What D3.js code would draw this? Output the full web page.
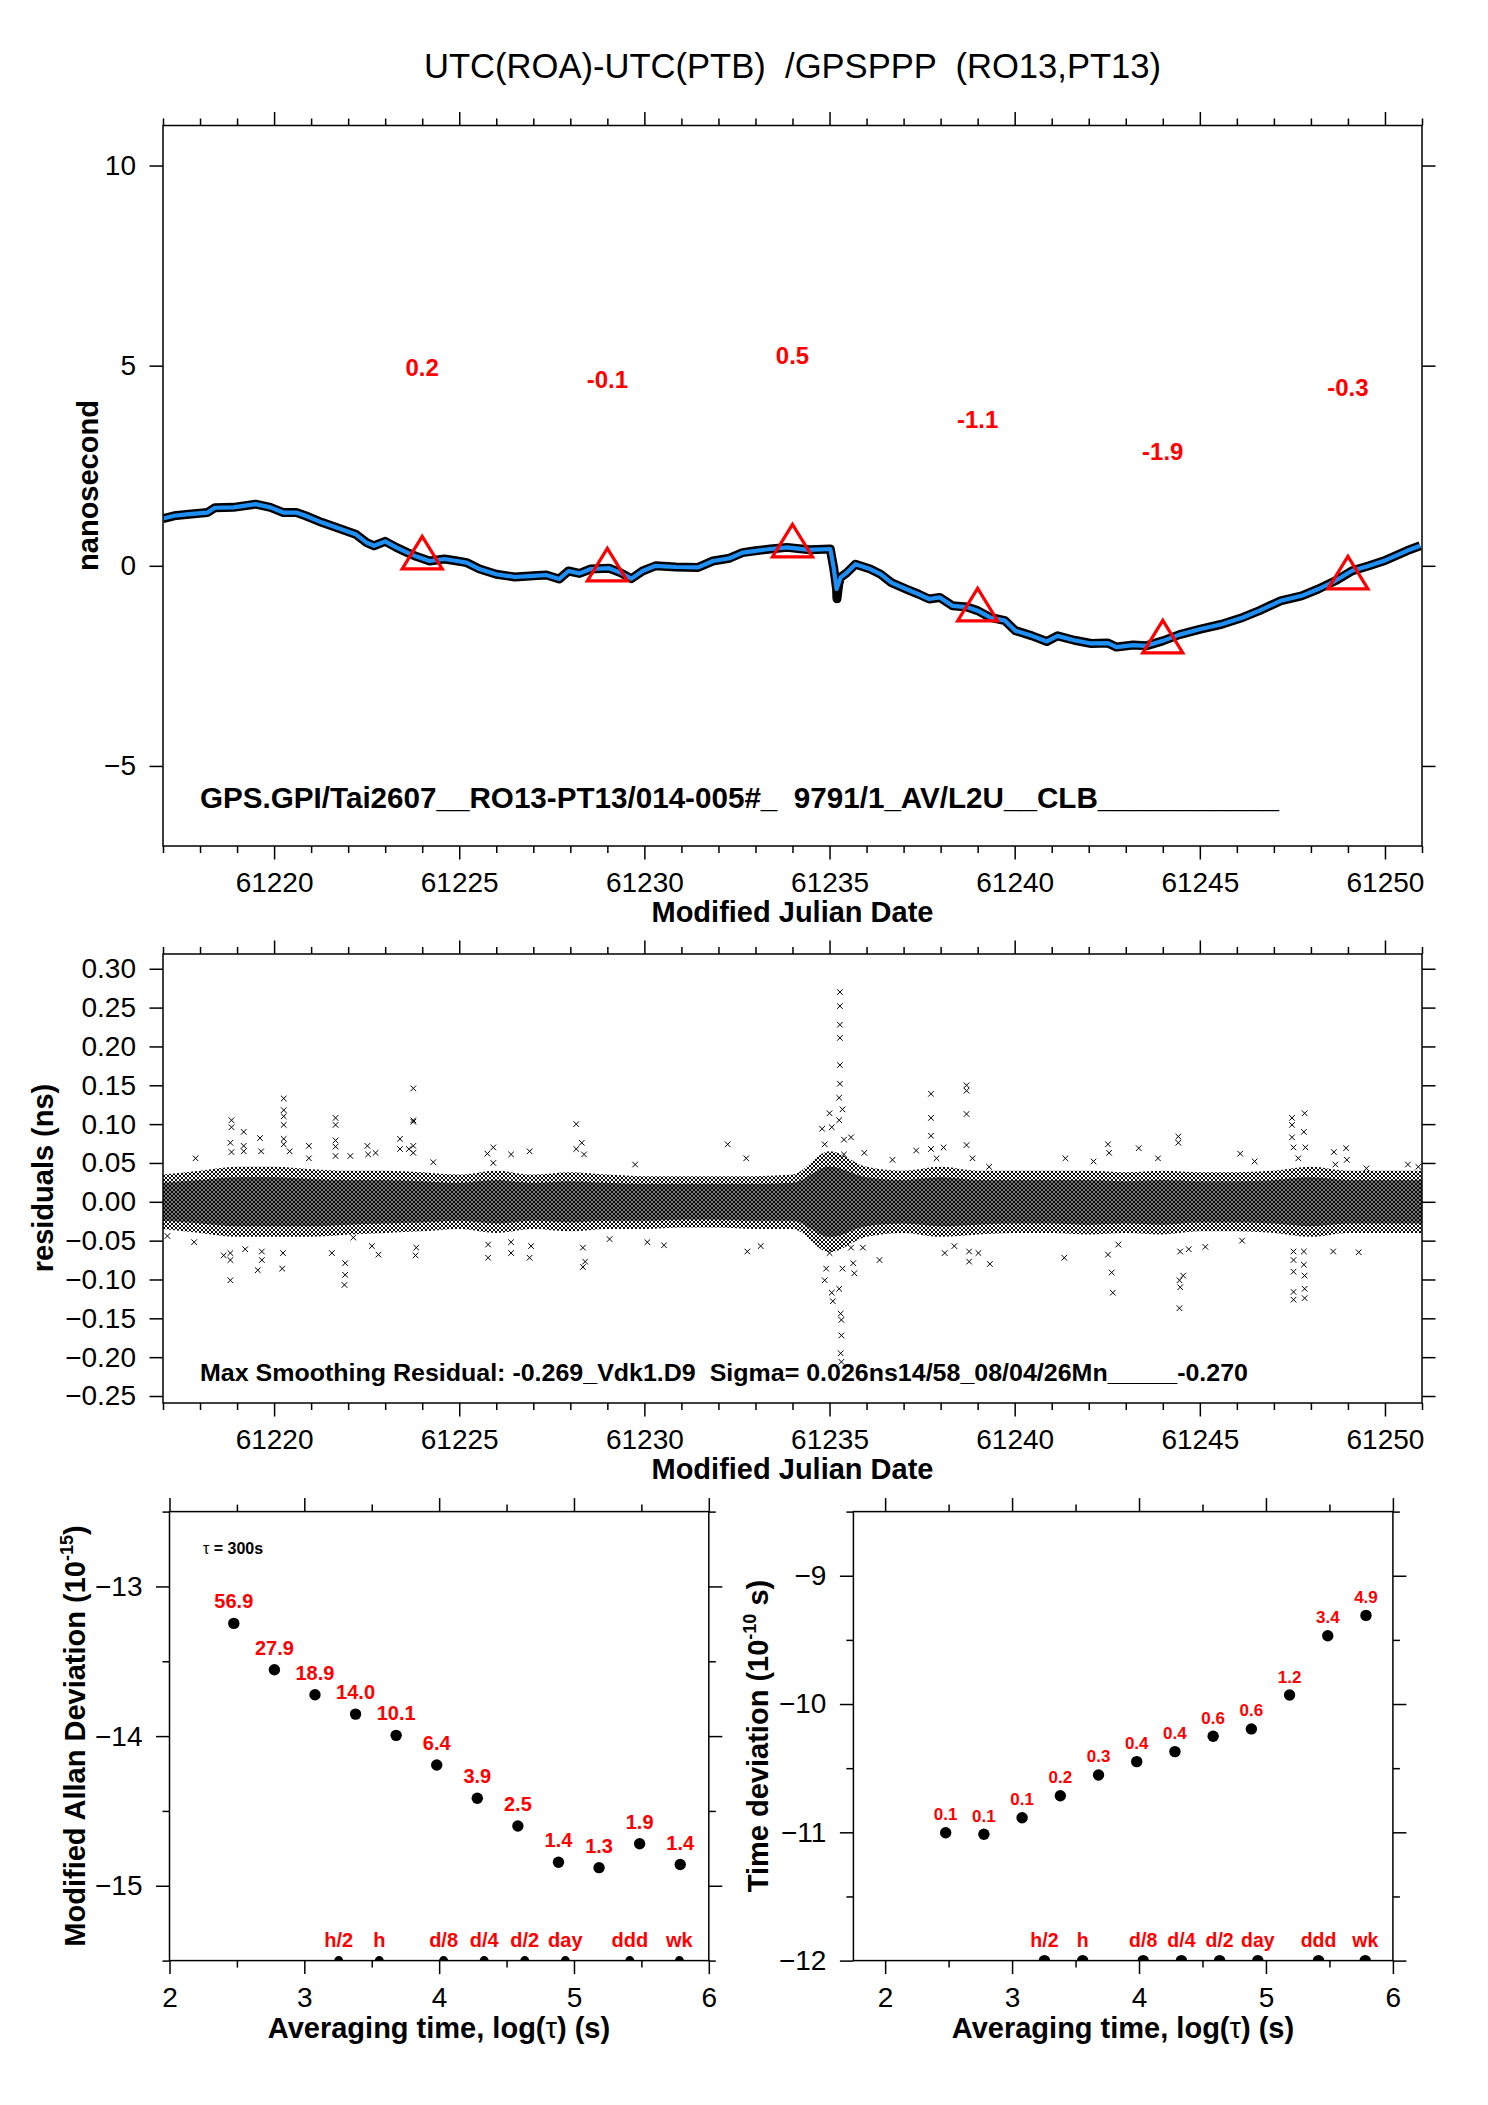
<!DOCTYPE html>
<html lang="en">
<head>
<meta charset="utf-8">
<title>UTC(ROA)-UTC(PTB) /GPSPPP</title>
<script src="https://cdn.jsdelivr.net/npm/d3@7"></script>
<style>
  body { margin:0; background:#fff; }
  svg { display:block; font-family:"Liberation Sans", Arial, Helvetica, sans-serif; }
</style>
</head>
<body>
<script>

// ---------- data ----------

// top panel: smoothed clock difference (ns) vs MJD
var curve = [
  [61217.0,1.18],[61217.3,1.25],[61217.7,1.29],[61218.2,1.33],[61218.4,1.45],[61218.9,1.46],
  [61219.5,1.54],[61219.9,1.46],[61220.25,1.33],[61220.6,1.33],[61220.85,1.25],[61221.3,1.08],
  [61221.8,0.92],[61222.2,0.79],[61222.5,0.58],[61222.7,0.50],[61223.0,0.61],[61223.3,0.46],
  [61223.6,0.33],[61223.85,0.23],[61224.2,0.12],[61224.6,0.17],[61224.95,0.12],[61225.2,0.08],
  [61225.55,-0.08],[61226.0,-0.21],[61226.5,-0.28],[61227.0,-0.25],[61227.35,-0.23],[61227.7,-0.33],
  [61227.95,-0.13],[61228.25,-0.19],[61228.55,-0.08],[61229.05,-0.06],[61229.35,-0.17],[61229.65,-0.32],
  [61229.95,-0.13],[61230.3,0.0],[61230.85,-0.03],[61231.45,-0.04],[61231.85,0.12],[61232.3,0.19],
  [61232.65,0.33],[61233.0,0.375],[61233.4,0.42],[61233.85,0.46],[61234.45,0.40],[61235.02,0.42],
  [61235.11,-0.04],[61235.19,-0.58],[61235.3,-0.29],[61235.47,-0.17],[61235.7,0.04],[61235.93,-0.03],
  [61236.1,-0.08],[61236.38,-0.21],[61236.67,-0.42],[61237.07,-0.58],[61237.41,-0.71],[61237.69,-0.83],
  [61237.98,-0.79],[61238.32,-1.0],[61238.71,-1.03],[61239.0,-1.12],[61239.34,-1.29],[61239.74,-1.37],
  [61240.02,-1.62],[61240.47,-1.75],[61240.87,-1.89],[61241.16,-1.75],[61241.61,-1.86],[61242.07,-1.94],
  [61242.52,-1.93],[61242.75,-2.03],[61243.2,-1.98],[61243.55,-2.0],[61244.0,-1.875],[61244.45,-1.72],
  [61245.02,-1.58],[61245.59,-1.46],[61246.16,-1.29],[61246.61,-1.12],[61247.18,-0.875],[61247.75,-0.75],
  [61248.2,-0.58],[61248.66,-0.375],[61249.11,-0.125],[61249.57,0.0],[61250.02,0.14],[61250.59,0.375],
  [61250.95,0.5]
];
// raw data spike that the smoothing does not follow
var rawSpike = [[61235.15,-0.3],[61235.2,-0.82],[61235.25,-0.45]];

var triDays = [61224, 61229, 61234, 61239, 61244, 61249];
var triVals = [0.2, -0.1, 0.5, -1.1, -1.9, -0.3];
var triLabels = ["0.2", "-0.1", "0.5", "-1.1", "-1.9", "-0.3"];

var mjdTicks = [61220, 61225, 61230, 61235, 61240, 61245, 61250];
var nsTicks = [-5, 0, 5, 10];
var resTicks = [-0.25, -0.20, -0.15, -0.10, -0.05, 0.00, 0.05, 0.10, 0.15, 0.20, 0.25, 0.30];

// middle panel: extent of the dense residual cloud, one value per day
var bandDays = [61217,61218,61219,61220,61221,61222,61223,61224,61225,61226,61227,61228,
  61229,61230,61231,61232,61233,61234,61235,61236,61237,61238,61239,61240,61241,61242,
  61243,61244,61245,61246,61247,61248,61249,61250,61251];
var bandHi = [0.035,0.040,0.045,0.045,0.042,0.040,0.040,0.038,0.035,0.040,0.035,0.038,
  0.035,0.033,0.033,0.033,0.033,0.035,0.065,0.045,0.040,0.045,0.040,0.040,0.040,0.040,
  0.038,0.040,0.038,0.038,0.040,0.045,0.040,0.040,0.040];
var bandLo = [-0.035,-0.040,-0.045,-0.045,-0.045,-0.042,-0.040,-0.038,-0.035,-0.040,-0.035,-0.038,
  -0.035,-0.035,-0.033,-0.033,-0.035,-0.035,-0.065,-0.045,-0.040,-0.045,-0.042,-0.040,-0.040,-0.042,
  -0.040,-0.042,-0.038,-0.038,-0.040,-0.045,-0.040,-0.040,-0.040];

// middle panel: residuals lying outside the cloud
var outliers = [
  [61217.12,-0.044],[61217.88,0.056],[61217.84,-0.052],[61218.64,-0.069],[61218.82,-0.101],[61218.85,0.105],
  [61218.85,0.096],[61218.82,0.076],[61218.85,0.064],[61218.82,-0.075],[61218.82,-0.066],[61219.18,0.090],
  [61219.18,0.072],[61219.18,0.065],[61219.22,-0.061],[61219.56,-0.088],[61219.62,0.082],[61219.65,0.065],
  [61219.67,-0.075],[61219.67,-0.064],[61220.26,0.133],[61220.26,0.118],[61220.26,0.110],[61220.26,0.099],
  [61220.26,0.081],[61220.26,0.074],[61220.22,-0.086],[61220.24,-0.066],[61220.42,0.065],[61220.94,0.072],
  [61220.94,0.056],[61221.56,-0.066],[61221.66,0.108],[61221.66,0.099],[61221.66,0.079],[61221.66,0.071],
  [61221.66,0.059],[61221.9,-0.107],[61221.92,-0.094],[61221.92,-0.079],[61222.06,0.059],[61222.14,-0.046],
  [61222.52,0.072],[61222.54,0.061],[61222.64,-0.057],[61222.74,0.063],[61222.82,-0.068],[61223.4,0.081],
  [61223.4,0.068],[61223.64,0.068],[61223.76,0.146],[61223.76,0.105],[61223.76,0.103],[61223.76,0.072],
  [61223.76,0.063],[61223.82,-0.069],[61223.84,-0.059],[61224.3,0.051],[61225.76,0.062],[61225.78,-0.072],
  [61225.78,-0.055],[61225.92,0.070],[61225.92,0.050],[61226.4,0.061],[61226.4,-0.066],[61226.4,-0.052],
  [61226.9,0.065],[61226.9,-0.072],[61226.94,-0.057],[61228.16,0.100],[61228.16,0.068],[61228.31,0.076],
  [61228.37,0.061],[61228.34,-0.084],[61228.4,-0.077],[61228.34,-0.059],[61229.06,-0.048],[61229.75,0.048],
  [61230.08,-0.052],[61230.53,-0.056],[61232.25,0.074],[61232.75,0.056],[61232.78,-0.064],[61233.14,-0.057],
  [61235.28,0.270],[61235.28,0.252],[61235.28,0.228],[61235.28,0.211],[61235.28,0.176],[61235.28,0.152],
  [61235.26,0.134],[61235.35,0.119],[61235.26,0.105],[61235.0,0.114],[61235.06,0.096],[61234.8,0.094],
  [61234.87,0.074],[61235.39,0.080],[61235.58,0.083],[61235.39,0.061],[61235.26,-0.112],[61235.3,-0.144],
  [61235.32,-0.152],[61235.32,-0.172],[61235.3,-0.195],[61235.32,-0.206],[61235.06,-0.117],[61235.09,-0.128],
  [61234.87,-0.101],[61234.91,-0.086],[61235.0,-0.066],[61235.35,-0.086],[61235.64,-0.079],[61235.67,-0.092],
  [61235.58,-0.059],[61235.94,0.063],[61235.9,-0.059],[61236.35,-0.075],[61236.7,0.054],[61237.34,0.066],
  [61237.74,0.139],[61237.74,0.108],[61237.74,0.085],[61237.74,0.068],[61237.89,0.056],[61238.08,0.070],
  [61238.11,-0.066],[61238.37,-0.057],[61238.7,0.150],[61238.7,0.143],[61238.7,0.113],[61238.7,0.073],
  [61238.86,0.056],[61238.77,-0.064],[61238.77,-0.077],[61239.02,-0.066],[61239.33,-0.080],[61239.31,0.045],
  [61241.34,-0.072],[61241.37,0.056],[61242.13,0.052],[61242.52,0.074],[61242.55,0.063],[61242.52,-0.068],
  [61242.62,-0.091],[61242.65,-0.117],[61242.8,-0.055],[61243.35,0.069],[61243.87,0.056],[61244.42,0.084],
  [61244.42,0.076],[61244.45,-0.101],[61244.47,-0.110],[61244.45,-0.137],[61244.55,-0.095],[61244.47,-0.064],
  [61244.7,-0.061],[61245.15,-0.058],[61246.09,0.062],[61246.14,-0.050],[61246.48,0.052],[61247.49,0.108],
  [61247.49,0.099],[61247.49,0.083],[61247.53,0.070],[61247.53,-0.064],[61247.53,-0.075],[61247.53,-0.090],
  [61247.53,-0.116],[61247.53,-0.126],[61247.83,0.114],[61247.81,0.090],[61247.85,0.070],[61247.81,-0.064],
  [61247.81,-0.081],[61247.83,-0.095],[61247.83,-0.112],[61247.83,-0.124],[61247.66,0.056],[61248.62,0.064],
  [61248.66,0.048],[61248.6,-0.064],[61248.95,0.069],[61248.97,0.054],[61249.29,-0.065],[61249.5,0.043],
  [61250.62,0.048],[61250.9,0.045]
];

// bottom panels: log10(tau) for tau = 300 s * 2^n
var logTau = [2.477, 2.778, 3.079, 3.380, 3.681, 3.982, 4.283, 4.584, 4.885, 5.186, 5.487, 5.788];
var mdevLog = [-13.247, -13.557, -13.724, -13.853, -13.995, -14.193, -14.415, -14.601, -14.843, -14.879, -14.719, -14.858];
var mdevLabels = ["56.9","27.9","18.9","14.0","10.1","6.4","3.9","2.5","1.4","1.3","1.9","1.4"];
var tdevLog = [-11.003, -11.015, -10.886, -10.715, -10.553, -10.449, -10.371, -10.251, -10.194, -9.930, -9.468, -9.309];
var tdevLabels = ["0.1","0.1","0.1","0.2","0.3","0.4","0.4","0.6","0.6","1.2","3.4","4.9"];

var markTau = [3.255, 3.556, 4.033, 4.334, 4.635, 4.936, 5.414, 5.782];
var markLabels = ["h/2","h","d/8","d/4","d/2","day","ddd","wk"];

var tauTicks = [2, 3, 4, 5, 6];
var tauMinor = [2.5, 3.5, 4.5, 5.5];
var mdevTicks = [-13, -14, -15];
var mdevMinor = [-12.5, -13.5, -14.5, -15.5];
var tdevTicks = [-9, -10, -11, -12];
var tdevMinor = [-8.5, -9.5, -10.5, -11.5];

// ---------- drawing ----------
var W = 1488, H = 2105;
var svg = d3.select("body").append("svg").attr("width", W).attr("height", H);
svg.append("rect").attr("width", W).attr("height", H).attr("fill", "#fff");
var defs = svg.append("defs");

// x-glyph hatching for the dense residual cloud (outer layer + offset core layer)
var patA = defs.append("pattern").attr("id", "xsA").attr("patternUnits", "userSpaceOnUse")
  .attr("width", 4).attr("height", 4);
patA.append("path").attr("d", "M0,0L4,4M4,0L0,4")
  .attr("stroke", "#000").attr("stroke-width", 0.95).attr("fill", "none");
var patB = defs.append("pattern").attr("id", "xsB").attr("patternUnits", "userSpaceOnUse")
  .attr("width", 4).attr("height", 4).attr("x", 2);
patB.append("path").attr("d", "M0,0L4,4M4,0L0,4")
  .attr("stroke", "#000").attr("stroke-width", 0.55).attr("fill", "none");

function clip(id, x, y) {
  var xr = x.range(), yr = y.range();
  defs.append("clipPath").attr("id", id).append("rect")
    .attr("x", xr[0]).attr("y", yr[1]).attr("width", xr[1] - xr[0]).attr("height", yr[0] - yr[1]);
  return "url(#" + id + ")";
}

function put(axis, tx, ty, labels) {
  var a = svg.append("g").attr("transform", "translate(" + tx + "," + ty + ")").call(axis);
  a.attr("font-size", null).attr("font-family", null);
  a.select(".domain").remove();
  a.selectAll("line").attr("stroke", "#000").attr("stroke-width", 1.5);
  if (!labels) a.selectAll("text").remove();
  else a.selectAll("text").attr("font-size", 28).attr("fill", "#000");
  return a;
}

function axes(x, y, o) {
  var xr = x.range(), yr = y.range();
  var left = xr[0], right = xr[1], top = yr[1], bottom = yr[0];
  var M = 13.5, m = 7;
  put(d3.axisBottom(x).tickValues(o.xMajor).tickSize(M).tickPadding(26.6 - M).tickFormat(o.xFmt), 0, bottom, true);
  put(d3.axisBottom(x).tickValues(o.xMinor).tickSize(m), 0, bottom, false);
  put(d3.axisTop(x).tickValues(o.xMajor).tickSize(M), 0, top, false);
  put(d3.axisTop(x).tickValues(o.xMinor).tickSize(m), 0, top, false);
  put(d3.axisLeft(y).tickValues(o.yMajor).tickSize(M).tickPadding(27 - M).tickFormat(o.yFmt), left, 0, true);
  put(d3.axisRight(y).tickValues(o.yMajor).tickSize(M), right, 0, false);
  if (o.yMinor) {
    put(d3.axisLeft(y).tickValues(o.yMinor).tickSize(m), left, 0, false);
    put(d3.axisRight(y).tickValues(o.yMinor).tickSize(m), right, 0, false);
  }
  svg.append("rect").attr("x", left).attr("y", top).attr("width", right - left).attr("height", bottom - top)
    .attr("fill", "none").attr("stroke", "#000").attr("stroke-width", 1.5);
}

function ylabel(x, y, parts) {
  var t = svg.append("text").attr("transform", "translate(" + x + "," + y + ") rotate(-90)")
    .attr("text-anchor", "middle").attr("font-weight", "bold").attr("font-size", 29).style("white-space", "pre");
  parts.forEach(function(p) {
    var s = t.append("tspan").text(p.t);
    if (p.sup) s.attr("font-size", 18).attr("dy", -12);
    if (p.down) s.attr("dy", 12);
  });
  return t;
}

// ===== panel 1 : time series =====
var x1 = d3.scaleLinear().domain([61217, 61251]).range([163, 1422]);
var y1 = d3.scaleLinear().domain([-7, 11]).range([846, 125.5]);
var minorDays = d3.range(61217, 61252).filter(function(d) { return d % 5 !== 0; });

svg.append("text").attr("x", 792.5).attr("y", 78).attr("text-anchor", "middle")
  .attr("font-size", 34.6).style("white-space", "pre")
  .text("UTC(ROA)-UTC(PTB)  /GPSPPP  (RO13,PT13)");

var g1 = svg.append("g").attr("clip-path", clip("c1", x1, y1));
var line1 = d3.line().x(function(d) { return x1(d[0]); }).y(function(d) { return y1(d[1]); });
var raw = curve.concat(rawSpike).sort(function(a, b) { return a[0] - b[0]; });
g1.append("path").datum(raw).attr("d", line1).attr("fill", "none")
  .attr("stroke", "#000").attr("stroke-width", 9).attr("stroke-linejoin", "round");
g1.append("path").datum(curve).attr("d", line1).attr("fill", "none")
  .attr("stroke", "#1e8ff5").attr("stroke-width", 4.2).attr("stroke-linejoin", "round");

var tri = triDays.map(function(d, i) { return {d: d, v: triVals[i], t: triLabels[i]}; });
g1.selectAll(".tri").data(tri).enter().append("path")
  .attr("transform", function(p) { return "translate(" + x1(p.d) + "," + y1(p.v) + ")"; })
  .attr("d", "M0,-21.5L20,11L-20,11Z").attr("fill", "none").attr("stroke", "#ff0000").attr("stroke-width", 3.2);
svg.selectAll(".trilab").data(tri).enter().append("text")
  .attr("x", function(p) { return x1(p.d); }).attr("y", function(p) { return y1(p.v) - 182; })
  .attr("text-anchor", "middle").attr("font-weight", "bold").attr("font-size", 24).attr("fill", "#ff0000")
  .text(function(p) { return p.t; });

svg.append("text").attr("x", 200).attr("y", 808).attr("font-weight", "bold").attr("font-size", 29)
  .attr("textLength", 1079).attr("lengthAdjust", "spacingAndGlyphs").style("white-space", "pre")
  .text("GPS.GPI/Tai2607__RO13-PT13/014-005#_  9791/1_AV/L2U__CLB___________");

axes(x1, y1, {xMajor: mjdTicks, xMinor: minorDays, yMajor: nsTicks, xFmt: d3.format("d"), yFmt: d3.format("d")});
svg.append("text").attr("x", 792.5).attr("y", 922).attr("text-anchor", "middle")
  .attr("font-weight", "bold").attr("font-size", 29).text("Modified Julian Date");
ylabel(98, 485.5, [{t: "nanosecond"}]);

// ===== panel 2 : residuals =====
var x2 = d3.scaleLinear().domain([61217, 61251]).range([163, 1422]);
var y2 = d3.scaleLinear().domain([-0.259, 0.319]).range([1403, 954]);
var g2 = svg.append("g").attr("clip-path", clip("c2", x2, y2));
var band = bandDays.map(function(d, i) { return {d: d, hi: bandHi[i], lo: bandLo[i]}; });
var areaOuter = d3.area().curve(d3.curveMonotoneX)
  .x(function(p) { return x2(p.d); }).y0(function(p) { return y2(p.lo); }).y1(function(p) { return y2(p.hi); });
var areaCore = d3.area().curve(d3.curveMonotoneX)
  .x(function(p) { return x2(p.d); }).y0(function(p) { return y2(p.lo * 0.7); }).y1(function(p) { return y2(p.hi * 0.7); });
g2.append("path").datum(band).attr("d", areaOuter).attr("fill", "url(#xsA)");
g2.append("path").datum(band).attr("d", areaCore).attr("fill", "url(#xsB)");
g2.selectAll(".out").data(outliers).enter().append("path")
  .attr("transform", function(p) { return "translate(" + x2(p[0]) + "," + y2(p[1]) + ")"; })
  .attr("d", "M-2.8,-2.8L2.8,2.8M2.8,-2.8L-2.8,2.8").attr("stroke", "#000").attr("stroke-width", 1);

svg.append("text").attr("x", 200).attr("y", 1381).attr("font-weight", "bold").attr("font-size", 24)
  .attr("textLength", 1048).attr("lengthAdjust", "spacingAndGlyphs").style("white-space", "pre")
  .text("Max Smoothing Residual: -0.269_Vdk1.D9  Sigma= 0.026ns14/58_08/04/26Mn_____-0.270");

axes(x2, y2, {xMajor: mjdTicks, xMinor: minorDays, yMajor: resTicks, xFmt: d3.format("d"), yFmt: d3.format(".2f")});
svg.append("text").attr("x", 792.5).attr("y", 1479).attr("text-anchor", "middle")
  .attr("font-weight", "bold").attr("font-size", 29).text("Modified Julian Date");
ylabel(53, 1178, [{t: "residuals (ns)"}]);

// ===== panels 3 & 4 : stability =====
function stability(x, y, vals, labels, labSize, labOff, markR, markSize, id) {
  var g = svg.append("g").attr("clip-path", clip(id, x, y));
  var pts = logTau.map(function(t, i) { return {t: t, v: vals[i], l: labels[i]}; });
  g.selectAll(".pt").data(pts).enter().append("circle")
    .attr("cx", function(p) { return x(p.t); }).attr("cy", function(p) { return y(p.v); })
    .attr("r", 5.7).attr("fill", "#000");
  svg.selectAll(".lab" + id).data(pts).enter().append("text")
    .attr("x", function(p) { return x(p.t); }).attr("y", function(p) { return y(p.v) - labOff; })
    .attr("text-anchor", "middle").attr("font-weight", "bold").attr("font-size", labSize).attr("fill", "#ff0000")
    .text(function(p) { return p.l; });
  var yb = y.domain()[0];
  var mk = markTau.map(function(t, i) { return {t: t, l: markLabels[i]}; });
  g.selectAll(".mk").data(mk).enter().append("circle")
    .attr("cx", function(p) { return x(p.t); }).attr("cy", y(yb)).attr("r", markR).attr("fill", "#000");
  svg.selectAll(".mkl" + id).data(mk).enter().append("text")
    .attr("x", function(p) { return x(p.t); }).attr("y", y(yb) - 14)
    .attr("text-anchor", "middle").attr("font-weight", "bold").attr("font-size", markSize).attr("fill", "#ff0000")
    .text(function(p) { return p.l; });
}

function xlabelTau(cx) {
  var t = svg.append("text").attr("x", cx).attr("y", 2038).attr("text-anchor", "middle")
    .attr("font-weight", "bold").attr("font-size", 29);
  t.append("tspan").text("Averaging time, log(");
  t.append("tspan").attr("font-weight", "normal").text("\u03c4");
  t.append("tspan").text(") (s)");
}

var x3 = d3.scaleLinear().domain([2, 6]).range([169.5, 708.8]);
var y3 = d3.scaleLinear().domain([-15.5, -12.5]).range([1960.6, 1511.6]);
stability(x3, y3, mdevLog, mdevLabels, 20, 15, 4.5, 20, "c3");
axes(x3, y3, {xMajor: tauTicks, xMinor: tauMinor, yMajor: mdevTicks, yMinor: mdevMinor,
  xFmt: d3.format("d"), yFmt: d3.format("d")});
var tl = svg.append("text").attr("x", 203).attr("y", 1554).attr("font-weight", "bold").attr("font-size", 16)
  .style("white-space", "pre");
tl.append("tspan").attr("font-weight", "normal").text("\u03c4");
tl.append("tspan").text(" = 300s");
xlabelTau(439);
ylabel(85, 1736, [{t: "Modified Allan Deviation (10"}, {t: "-15", sup: true}, {t: ")", down: true}]);

var x4 = d3.scaleLinear().domain([1.75, 6]).range([853.4, 1392.9]);
var y4 = d3.scaleLinear().domain([-12, -8.5]).range([1960.6, 1511.6]);
stability(x4, y4, tdevLog, tdevLabels, 17, 12.5, 5.7, 19.5, "c4");
axes(x4, y4, {xMajor: tauTicks, xMinor: tauMinor, yMajor: tdevTicks, yMinor: tdevMinor,
  xFmt: d3.format("d"), yFmt: d3.format("d")});
xlabelTau(1123);
ylabel(768, 1736, [{t: "Time deviation (10"}, {t: "-10", sup: true}, {t: " s)", down: true}]);

</script>
</body>
</html>
